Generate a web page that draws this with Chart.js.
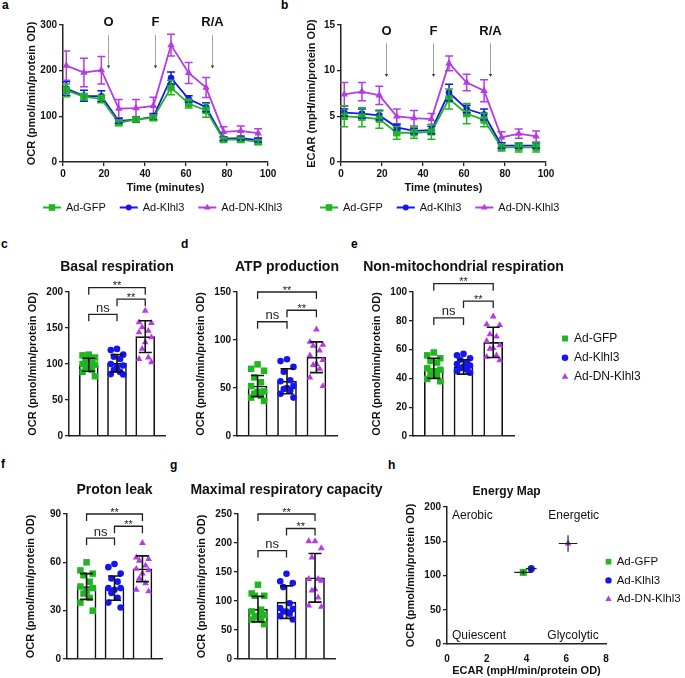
<!DOCTYPE html>
<html><head><meta charset="utf-8"><title>Mitochondrial stress test</title>
<script src="https://cdn.jsdelivr.net/npm/chart.js@4.4.1/dist/chart.umd.min.js"></script>
<style>
html,body{margin:0;padding:0;background:#fff}
#wrap{position:relative;width:685px;height:678px;overflow:hidden;background:#fff;font-family:'Liberation Sans',Arial,sans-serif}
#wrap canvas{position:absolute}
.pl{position:absolute;font-weight:bold;font-size:12px;line-height:12px;color:#000}
</style></head><body><div id="wrap">
<div class="pl" style="left:2px;top:-1px">a</div>
<div class="pl" style="left:281px;top:-1px">b</div>
<div class="pl" style="left:1px;top:238px">c</div>
<div class="pl" style="left:181px;top:238px">d</div>
<div class="pl" style="left:351px;top:238px">e</div>
<div class="pl" style="left:1px;top:458px">f</div>
<div class="pl" style="left:170px;top:459px">g</div>
<div class="pl" style="left:388px;top:459px">h</div>
<canvas id="cA"></canvas><canvas id="cB"></canvas>
<canvas id="cC"></canvas><canvas id="cD"></canvas><canvas id="cE"></canvas>
<canvas id="cF"></canvas><canvas id="cG"></canvas><canvas id="cH"></canvas>
</div>
<script>
// ---------------- data ----------------
const groups = ['Ad-GFP', 'Ad-Klhl3', 'Ad-DN-Klhl3'];

// a/b: time course
const timeMin = [1.6, 10.2, 18.7, 27.2, 35.6, 44.1, 52.7, 61.3, 69.8, 78.3, 86.7, 95.2];
const ocrGFP      = [157, 143, 138, 86, 93, 97, 163, 128, 113, 49, 49, 44];
const ocrGFPErr   = [14, 7, 8, 6, 5, 6, 16, 10, 15, 5, 5, 5];
const ocrKlhl3    = [161, 145, 144, 90, 93, 99, 184, 138, 120, 51, 52, 48];
const ocrKlhl3Err = [15, 12, 12, 5, 5, 7, 13, 7, 10, 4, 4, 4];
const ocrDN       = [211, 196, 201, 117, 118, 123, 256, 195, 163, 66, 68, 63];
const ocrDNErr    = [32, 31, 30, 20, 19, 19, 24, 23, 22, 11, 11, 10];

const ecarGFP      = [5.0, 4.9, 4.7, 3.2, 3.2, 3.3, 6.9, 5.3, 4.6, 1.6, 1.6, 1.6];
const ecarGFPErr   = [1.15, 1.05, 1.0, 0.7, 0.6, 0.8, 1.1, 1.1, 0.75, 0.4, 0.5, 0.5];
const ecarKlhl3    = [5.4, 5.3, 5.1, 3.8, 3.4, 3.5, 7.6, 5.8, 5.2, 1.8, 1.8, 1.8];
const ecarKlhl3Err = [0.4, 0.5, 0.5, 0.3, 0.3, 0.4, 0.9, 0.4, 0.6, 0.3, 0.3, 0.3];
const ecarDN       = [7.4, 7.7, 7.3, 5.0, 4.8, 4.7, 10.8, 8.7, 7.8, 2.7, 3.1, 2.8];
const ecarDNErr    = [1.3, 1.0, 1.0, 0.8, 0.85, 0.6, 0.8, 0.9, 1.2, 0.6, 0.5, 0.6];

const injectionTimes  = [21.8, 44.9, 72.9];
const injectionLabels = ['O', 'F', 'R/A'];

// c: basal respiration
const basalGFP   = [113, 112, 109, 106, 102.5, 100, 99, 98, 95.6, 92, 89, 83];
const basalKlhl3 = [121, 119.5, 113, 110, 107, 100, 98, 95.6, 92, 89, 86, 85.5];
const basalDN    = [174, 158, 157, 151, 146, 144, 137, 130, 121, 109, 107, 102.5];
const basalMean  = [99, 101, 138];
const basalSD    = [9, 12, 22];
// d: ATP production
const atpGFP   = [74.6, 70, 68, 61, 56, 52, 46.5, 46, 44, 42, 40, 36.5];
const atpKlhl3 = [80, 78, 72, 67, 58, 57, 52, 50, 49, 47.5, 44, 40];
const atpDN    = [111, 98, 95, 94, 89, 84, 79, 75, 74, 70, 61, 52];
const atpMean  = [52, 57, 82];
const atpSD    = [11, 13, 16];
// e: non-mitochondrial respiration
const nonmitoGFP   = [58, 56, 54, 52, 51, 47, 46, 45, 43, 42, 39.6, 38];
const nonmitoKlhl3 = [57, 56, 54, 53, 51, 50, 49, 48, 47, 46, 45, 44];
const nonmitoDN    = [83, 77.5, 77, 70.6, 69, 66, 63, 61, 60.6, 56, 55, 52.5];
const nonmitoMean  = [47, 48, 65];
const nonmitoSD    = [7, 5, 10.5];
// f: proton leak
const leakGFP   = [60, 55, 53, 52, 48, 45, 44, 42, 40.6, 38, 35, 30];
const leakKlhl3 = [59, 57, 53, 50, 48, 44, 44, 43, 41, 38, 35, 32];
const leakDN    = [72, 63, 62, 61, 58, 56, 55, 53, 50, 47, 43, 42];
const leakMean  = [45, 44, 56];
const leakSD    = [8, 7.5, 8];
// g: maximal respiratory capacity
const maxGFP   = [128, 113, 109, 109, 85, 82, 76, 74, 72, 68, 68, 60];
const maxKlhl3 = [147, 134, 131, 124, 96, 88, 86, 82, 82, 78, 74, 68];
const maxDN    = [203, 203, 191, 175, 138, 138, 135, 120, 118, 106, 92, 90];
const maxMean  = [86, 98, 140];
const maxSD    = [22, 28, 42];
// h: energy map
const emEcar    = [3.84, 4.24, 6.09];
const emEcarErr = [0.46, 0.27, 0.47];
const emOcr     = [104.6, 110, 146.7];
const emOcrErr  = [3, 3, 12];

// ---------------- styling ----------------
const FONT = "'Liberation Sans', Arial, Helvetica, sans-serif";
const COLORS = ['#1fb61f', '#1515f2', '#b43ce6'];
const STYLES = ['rect', 'circle', 'triangle'];
const JIT = [0, -0.22, 0.22, -0.11, 0.11, -0.22, 0.22, 0, -0.11, 0.11, -0.22, 0.22];
Chart.defaults.font.family = FONT;
Chart.defaults.color = '#111';
Chart.defaults.animation = false;
Chart.defaults.responsive = false;
Chart.defaults.devicePixelRatio = 1;
Chart.defaults.events = [];
Chart.defaults.plugins.legend.display = false;
Chart.defaults.plugins.tooltip.enabled = false;

function mark(ctx, style, x, y, r, color) {
  ctx.fillStyle = color; ctx.beginPath();
  if (style === 'rect') { const s = r * Math.SQRT1_2; ctx.rect(x - s, y - s, 2 * s, 2 * s); }
  else if (style === 'circle') { ctx.arc(x, y, r, 0, 2 * Math.PI); }
  else { ctx.moveTo(x, y - r); ctx.lineTo(x + r * 0.866, y + r * 0.5); ctx.lineTo(x - r * 0.866, y + r * 0.5); ctx.closePath(); }
  ctx.fill();
}
function yAxis(max, step, title, Wy) {
  return { type: 'linear', position: 'left', min: 0, max: max,
    ticks: { stepSize: step, font: { size: 10, weight: 'bold' }, padding: 2, color: '#111' },
    grid: { display: true, drawOnChartArea: false, drawTicks: true, tickLength: 4, color: '#222', lineWidth: 1.3 },
    border: { display: true, color: '#222', width: 1.5 },
    title: { display: true, text: title, font: { size: 11, weight: 'bold' }, padding: { top: 0, bottom: 0 }, color: '#111' },
    afterFit: s => { s.width = Wy; } };
}

// ---------------- plugins ----------------
const errPlugin = { id: 'errbars', afterDatasetsDraw(chart, args, o) {
  const { ctx, scales: { x, y } } = chart;
  const dss = chart.data.datasets;
  for (let i = dss.length - 1; i >= 0; i--) {
    const ds = dss[i]; if (!ds.errors) continue;
    ctx.save(); ctx.strokeStyle = ds.borderColor; ctx.lineWidth = 1.5;
    ds.data.forEach((p, j) => {
      const e = ds.errors[j], px = x.getPixelForValue(p.x);
      const ya = y.getPixelForValue(p.y - e), yb = y.getPixelForValue(p.y + e);
      ctx.beginPath(); ctx.moveTo(px, ya); ctx.lineTo(px, yb);
      ctx.moveTo(px - o.cap, ya); ctx.lineTo(px + o.cap, ya);
      ctx.moveTo(px - o.cap, yb); ctx.lineTo(px + o.cap, yb); ctx.stroke();
    });
    ctx.restore();
  }
}};
const injPlugin = { id: 'inj', afterDraw(chart, args, o) {
  if (!o || !o.xs) return;
  const { ctx, scales: { x, y } } = chart;
  ctx.save();
  o.xs.forEach((xv, i) => {
    const px = Math.round(x.getPixelForValue(xv)) + 0.5;
    const y1 = y.getPixelForValue(o.top), y2 = y.getPixelForValue(o.bot);
    ctx.strokeStyle = '#a0a0a0'; ctx.lineWidth = 1;
    ctx.beginPath(); ctx.moveTo(px, y1); ctx.lineTo(px, y2 - 2); ctx.stroke();
    ctx.fillStyle = '#333'; ctx.beginPath(); ctx.moveTo(px - 1.6, y2 - 3); ctx.lineTo(px + 1.6, y2 - 3); ctx.lineTo(px, y2); ctx.closePath(); ctx.fill();
    ctx.fillStyle = '#111'; ctx.font = 'bold 13px ' + FONT; ctx.textAlign = 'center'; ctx.textBaseline = 'middle';
    ctx.fillText(o.labels[i], px, y.getPixelForValue(o.labelY));
  });
  ctx.restore();
}};
// horizontal legend (line + marker icons) under the time-course panels
const rowLegend = { id: 'rowLegend', afterDraw(chart, args, o) {
  if (!o || !o.show) return;
  const { ctx, chartArea: ca } = chart;
  let x = ca.left + o.x0;
  const y = ca.bottom + o.dy;
  ctx.save();
  ctx.font = o.size + 'px ' + FONT; ctx.textAlign = 'left'; ctx.textBaseline = 'middle';
  chart.data.datasets.forEach(ds => {
    ctx.strokeStyle = ds.borderColor; ctx.lineWidth = 2;
    ctx.beginPath(); ctx.moveTo(x, y); ctx.lineTo(x + 18, y); ctx.stroke();
    mark(ctx, ds.pointStyle, x + 9, y, ds.pointRadius * 0.9, ds.borderColor);
    ctx.fillStyle = '#111';
    ctx.fillText(ds.label, x + 23, y);
    x += 23 + ctx.measureText(ds.label).width + o.gap;
  });
  ctx.restore();
}};
const sigPlugin = { id: 'sig', afterDatasetsDraw(chart, args, o) {
  if (!o || !o.means) return;
  const { ctx, scales: { x, y } } = chart;
  ctx.save();
  ctx.strokeStyle = '#111'; ctx.lineWidth = 1.6;
  o.means.forEach((m, i) => {
    const px = x.getPixelForValue(i);
    const a = y.getPixelForValue(m - o.sds[i]), b = y.getPixelForValue(m + o.sds[i]);
    ctx.beginPath(); ctx.moveTo(px, a); ctx.lineTo(px, b);
    ctx.moveTo(px - 6.5, a); ctx.lineTo(px + 6.5, a);
    ctx.moveTo(px - 6.5, b); ctx.lineTo(px + 6.5, b); ctx.stroke();
  });
  ctx.strokeStyle = '#222'; ctx.lineWidth = 1.3; ctx.fillStyle = '#222'; ctx.textAlign = 'center'; ctx.textBaseline = 'alphabetic';
  o.brackets.forEach(br => {
    const xa = x.getPixelForValue(br.a), xb = x.getPixelForValue(br.b), yy = y.getPixelForValue(br.y);
    ctx.beginPath(); ctx.moveTo(xa, yy + 7); ctx.lineTo(xa, yy); ctx.lineTo(xb, yy); ctx.lineTo(xb, yy + 7); ctx.stroke();
    if (br.t === 'ns') { ctx.font = '13px ' + FONT; ctx.fillText('ns', (xa + xb) / 2, yy - 2.5); }
    else { ctx.font = '11px ' + FONT; ctx.fillText(br.t, (xa + xb) / 2, yy + 1.5); }
  });
  ctx.restore();
}};
const txtPlugin = { id: 'txt', afterDraw(chart, args, o) {
  if (!o || !o.items) return;
  const { ctx, chartArea: ca, scales } = chart;
  ctx.save();
  o.items.forEach(it => {
    ctx.font = (it.bold ? 'bold ' : '') + it.size + 'px ' + FONT;
    ctx.fillStyle = '#111'; ctx.textAlign = it.align || 'center'; ctx.textBaseline = 'middle';
    const px = it.dx !== undefined ? (ca.left + ca.right) / 2 + it.dx : scales.x.getPixelForValue(it.x);
    const py = it.dy !== undefined ? ca.top + it.dy : scales.y.getPixelForValue(it.y);
    ctx.fillText(it.text, px, py);
  });
  ctx.restore();
}};
const sideLegend = { id: 'sideLegend', afterDraw(chart, args, o) {
  if (!o || !o.show) return;
  const { ctx, chartArea: ca } = chart;
  const items = chart.data.datasets.filter(d => d.inLegend);
  ctx.save();
  items.forEach((ds, i) => {
    const yy = ca.top + o.y0 + i * o.dy;
    mark(ctx, ds.pointStyle, ca.right + o.mx, yy, o.r[i], ds.backgroundColor);
    ctx.fillStyle = '#111'; ctx.font = o.size + 'px ' + FONT; ctx.textAlign = 'left'; ctx.textBaseline = 'middle';
    ctx.fillText(ds.label, ca.right + o.tx, yy);
  });
  ctx.restore();
}};

// ---------------- builders ----------------
function linePanel(id, g, series, yMax, yStep, yTitle, inj) {
  const cv = document.getElementById(id);
  const Wy = g.L - g.cl, padTop = g.T - g.ct, Hx = 28;
  const H = Math.ceil(padTop + (g.B - g.T) + Hx + 30);
  const padB = H - padTop - (g.B - g.T) - Hx;
  const padR = 16, W = Math.round(g.R - g.cl + padR);
  cv.width = W; cv.height = H; cv.style.left = g.cl + 'px'; cv.style.top = g.ct + 'px';
  const radii = [5.2, 3.3, 4.3];
  new Chart(cv, {
    type: 'line',
    data: { datasets: series.map((s, i) => ({
      label: groups[i], data: timeMin.map((t, j) => ({ x: t, y: s.v[j] })), errors: s.e,
      borderColor: COLORS[i], backgroundColor: COLORS[i], pointBackgroundColor: COLORS[i],
      pointBorderWidth: 0, pointStyle: STYLES[i], pointRadius: radii[i], borderWidth: 1.8, tension: 0, fill: false })) },
    options: {
      layout: { padding: { top: padTop, left: 0, right: padR, bottom: padB } },
      scales: {
        x: { type: 'linear', min: 0, max: 100,
          ticks: { stepSize: 20, font: { size: 10, weight: 'bold' }, padding: 2, color: '#111' },
          grid: { display: true, drawOnChartArea: false, drawTicks: true, tickLength: 4, color: '#222', lineWidth: 1.3 },
          border: { display: true, color: '#222', width: 1.5 },
          title: { display: true, text: 'Time (minutes)', font: { size: 11, weight: 'bold' }, padding: { top: 0, bottom: -4.6 }, color: '#111' },
          afterFit: s => { s.height = Hx; } },
        y: yAxis(yMax, yStep, yTitle, Wy)
      },
      plugins: {
        errbars: { cap: 4 },
        inj: inj,
        rowLegend: { show: true, x0: g.legX - g.L, dy: 45.5, size: 11, gap: 14 }
      }
    },
    plugins: [errPlugin, injPlugin, rowLegend]
  });
}

function dotPanel(id, g, vals, means, sds, brackets, yMax, yStep, title, legend) {
  const cv = document.getElementById(id);
  const padL = g.padL || 0;
  const cl = g.L - 43 - padL;
  const Hx = 3;
  const ct = Math.floor(g.titleY - 12);
  const padTop = g.T - ct;
  const H = Math.ceil(g.B + Hx + 6 - ct);
  const padB = ct + H - Hx - g.B;
  const padR = legend ? 135 : (g.padR || 8);
  const W = Math.round(g.R - cl + padR);
  cv.width = W; cv.height = H; cv.style.left = cl + 'px'; cv.style.top = ct + 'px';
  const radii = [4.6, 3.3, 3.9];
  const datasets = [{ type: 'bar', label: 'Mean', data: means.map((m, i) => ({ x: i, y: m })),
    backgroundColor: '#ffffff', borderColor: '#111', borderWidth: 1.6, barThickness: 19, order: 2 }];
  vals.forEach((arr, i) => datasets.push({ type: 'scatter', label: groups[i], inLegend: true,
    data: arr.map((v, j) => ({ x: i + JIT[j], y: v })), pointStyle: STYLES[i], pointRadius: radii[i],
    backgroundColor: COLORS[i], borderWidth: 0, order: 1 }));
  new Chart(cv, {
    type: 'bar',
    data: { datasets },
    options: {
      layout: { padding: { top: padTop, left: padL, right: padR, bottom: padB } },
      scales: {
        x: { type: 'linear', min: -0.7, max: 2.7, offset: false, ticks: { display: false }, grid: { display: false },
          border: { display: true, color: '#222', width: 1.5 }, afterFit: s => { s.height = Hx; } },
        y: yAxis(yMax, yStep, 'OCR (pmol/min/protein OD)', 43)
      },
      plugins: {
        sig: { means, sds, brackets },
        txt: { items: [{ text: title, dx: 0, dy: g.titleY - g.T, size: 14, bold: true }] },
        sideLegend: legend ? Object.assign({ show: true }, legend) : { show: false }
      }
    },
    plugins: [sigPlugin, txtPlugin, sideLegend]
  });
}

// ---------------- panels ----------------
linePanel('cA', { cl: 25, ct: 5, L: 63, R: 268, T: 25, B: 162, legX: 43 },
  [{ v: ocrGFP, e: ocrGFPErr }, { v: ocrKlhl3, e: ocrKlhl3Err }, { v: ocrDN, e: ocrDNErr }],
  300, 100, 'OCR (pmol/min/protein OD)',
  { xs: injectionTimes, labels: injectionLabels, top: 278, bot: 205, labelY: 305 });
linePanel('cB', { cl: 305, ct: 5, L: 341, R: 546, T: 25, B: 162, legX: 320 },
  [{ v: ecarGFP, e: ecarGFPErr }, { v: ecarKlhl3, e: ecarKlhl3Err }, { v: ecarDN, e: ecarDNErr }],
  15, 5, 'ECAR (mpH/min/protein OD)',
  { xs: injectionTimes, labels: injectionLabels, top: 13.0, bot: 9.3, labelY: 14.3 });

dotPanel('cC', { L: 69, R: 165, T: 292, B: 436, titleY: 267 },
  [basalGFP, basalKlhl3, basalDN], basalMean, basalSD,
  [{ a: 0, b: 1, y: 169, t: 'ns' }, { a: 1, b: 2, y: 190, t: '**' }, { a: 0, b: 2, y: 206, t: '**' }],
  200, 50, 'Basal respiration');
dotPanel('cD', { L: 237, R: 337, T: 292, B: 436, titleY: 267 },
  [atpGFP, atpKlhl3, atpDN], atpMean, atpSD,
  [{ a: 0, b: 1, y: 119, t: 'ns' }, { a: 1, b: 2, y: 131, t: '**' }, { a: 0, b: 2, y: 150, t: '**' }],
  150, 50, 'ATP production');
dotPanel('cE', { L: 413, R: 514, T: 292, B: 436, titleY: 267, padL: 20 },
  [nonmitoGFP, nonmitoKlhl3, nonmitoDN], nonmitoMean, nonmitoSD,
  [{ a: 0, b: 1, y: 82, t: 'ns' }, { a: 1, b: 2, y: 93.7, t: '**' }, { a: 0, b: 2, y: 105.8, t: '**' }],
  100, 20, 'Non-mitochondrial respiration',
  { mx: 51, tx: 60, y0: 46.5, dy: 19.2, size: 12, r: [4.2, 3.3, 3.8] });
dotPanel('cF', { L: 67, R: 162, T: 514, B: 659, titleY: 490 },
  [leakGFP, leakKlhl3, leakDN], leakMean, leakSD,
  [{ a: 0, b: 1, y: 75, t: 'ns' }, { a: 1, b: 2, y: 82.4, t: '**' }, { a: 0, b: 2, y: 90, t: '**' }],
  90, 30, 'Proton leak');
dotPanel('cG', { L: 238, R: 335, T: 514, B: 659, titleY: 490, padL: 12, padR: 55 },
  [maxGFP, maxKlhl3, maxDN], maxMean, maxSD,
  [{ a: 0, b: 1, y: 187, t: 'ns' }, { a: 1, b: 2, y: 225, t: '**' }, { a: 0, b: 2, y: 250, t: '**' }],
  250, 50, 'Maximal respiratory capacity');

// h: energy map
(function () {
  const cv = document.getElementById('cH');
  const g = { cl: 404, L: 447, R: 606, T: 507, B: 644 };
  const Wy = g.L - g.cl, ct = 480, padTop = g.T - ct, Hx = 33.6;
  const H = 198, padB = ct + H - Hx - g.B;
  const padR = 78, W = Math.round(g.R - g.cl + padR);
  cv.width = W; cv.height = H; cv.style.left = g.cl + 'px'; cv.style.top = ct + 'px';
  const radii = [5, 3.6, 4];
  const emErr = { id: 'emErr', afterDatasetsDraw(chart) {
    const { ctx, scales: { x, y } } = chart;
    ctx.save(); ctx.strokeStyle = '#222'; ctx.lineWidth = 1.2;
    chart.data.datasets.forEach(ds => {
      const p = ds.data[0];
      const px = x.getPixelForValue(p.x), py = y.getPixelForValue(p.y);
      ctx.beginPath();
      ctx.moveTo(x.getPixelForValue(p.x - ds.xErr), py); ctx.lineTo(x.getPixelForValue(p.x + ds.xErr), py);
      ctx.moveTo(px, y.getPixelForValue(p.y - ds.yErr)); ctx.lineTo(px, y.getPixelForValue(p.y + ds.yErr));
      ctx.stroke();
    });
    ctx.restore();
  }};
  new Chart(cv, {
    type: 'scatter',
    data: { datasets: groups.map((lab, i) => ({ label: lab, inLegend: true,
      data: [{ x: emEcar[i], y: emOcr[i] }], xErr: emEcarErr[i], yErr: emOcrErr[i],
      pointStyle: STYLES[i], pointRadius: radii[i], backgroundColor: COLORS[i], borderWidth: 0 })) },
    options: {
      layout: { padding: { top: padTop, left: 0, right: padR, bottom: padB } },
      scales: {
        x: { type: 'linear', min: 0, max: 8,
          ticks: { stepSize: 2, font: { size: 10, weight: 'bold' }, padding: 3, color: '#111' },
          grid: { display: true, drawOnChartArea: false, drawTicks: true, tickLength: 6, tickColor: 'rgba(0,0,0,0)' },
          border: { display: true, color: '#222', width: 1.5 },
          title: { display: true, text: 'ECAR (mpH/min/protein OD)', font: { size: 11, weight: 'bold' }, padding: { top: 0, bottom: 0 }, color: '#111' },
          afterFit: s => { s.height = Hx; } },
        y: yAxis(200, 50, 'OCR (pmol/min/protein OD)', Wy)
      },
      plugins: {
        txt: { items: [
          { text: 'Energy Map', x: 3.0, y: 222, size: 12, bold: true },
          { text: 'Aerobic', x: 0.25, y: 188, size: 12, align: 'left' },
          { text: 'Energetic', x: 5.1, y: 188, size: 12, align: 'left' },
          { text: 'Quiescent', x: 0.25, y: 12, size: 12, align: 'left' },
          { text: 'Glycolytic', x: 5.05, y: 12, size: 12, align: 'left' } ] },
        sideLegend: { show: true, mx: 2.5, tx: 10.7, y0: 54.7, dy: 18.7, size: 11.5, r: [4, 3.2, 3.6] }
      }
    },
    plugins: [emErr, txtPlugin, sideLegend]
  });
})();
</script></body></html>
